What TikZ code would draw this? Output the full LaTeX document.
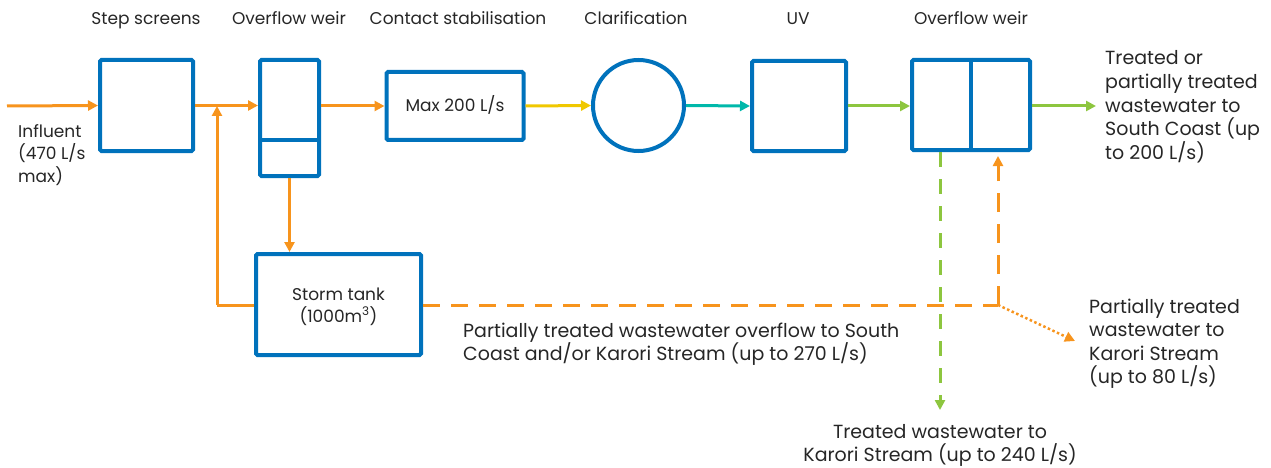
\documentclass[tikz,border=0pt]{standalone}
\usepackage{fontspec}
\setmainfont{Poppins}
\usetikzlibrary{arrows.meta}
\definecolor{cblue}{RGB}{0,114,188}
\definecolor{corange}{RGB}{247,148,29}
\definecolor{cyellow}{RGB}{240,200,0}
\definecolor{cteal}{RGB}{0,184,170}
\definecolor{cgreen}{RGB}{141,198,63}
\definecolor{ctext}{RGB}{38,38,38}
\tikzset{
  unitbox/.style={draw=cblue,line width=4pt,rounded corners=1.5pt,inner sep=0pt},
  flow/.style={line width=3pt,-{Triangle[length=10pt,width=10pt]}},
  plain/.style={line width=3pt},
  lab/.style={font=\fontsize{17}{22}\selectfont,inner sep=0pt,text=ctext,anchor=base},
  mlab/.style={inner sep=0pt,text=ctext,align=left,font=\fontsize{19}{23.5}\selectfont,anchor=base west},
}
\begin{document}
\begin{tikzpicture}[x=1pt,y=-1pt]
\useasboundingbox (0,0) rectangle (1271,468);
% boxes
\node[unitbox,minimum width=93pt,minimum height=91pt] (ss) at (146.5,105.5) {};
\node[unitbox,minimum width=59pt,minimum height=116pt] (ow1) at (289.5,118) {};
\draw[cblue,line width=4pt] (ow1.west |- 0,140) coordinate (d1a) -- (ow1.east |- 0,140) coordinate (d1b);
\node[unitbox,minimum width=137pt,minimum height=68pt] (cs) at (455,106) {};
\node[lab] (cst) at (455,112) {Max 200 L/s};
\node[draw=cblue,line width=4pt,circle,minimum size=91pt,inner sep=0pt] (cl) at (638.5,105.5) {};
\node[unitbox,minimum width=94pt,minimum height=90pt] (uv) at (799,106) {};
\node[unitbox,minimum width=118pt,minimum height=90pt] (ow2) at (971,105) {};
\draw[cblue,line width=4pt] (ow2.north) -- (ow2.south);
\node[unitbox,minimum width=165pt,minimum height=101pt] (st) at (338.5,304.5) {};
\node[lab,align=center] (stt) at (338.5,322) {Storm tank\\(1000m\textsuperscript{3})};
% top labels
\node[lab] (l1) at (146,25) {Step screens};
\node[lab] (l2) at (289,25) {Overflow weir};
\node[lab] (l3) at (458,25) {Contact stabilisation};
\node[lab] (l4) at (636,25) {Clarification};
\node[lab] (l5) at (798,25) {UV};
\node[lab] (l6) at (971,25) {Overflow weir};
% side texts
\node[lab,align=left,anchor=base west] (inf) at (18,182) {Influent\\(470 L/s\\max)};
\node[mlab] (tr1) at (1105,159) {Treated or\\partially treated\\wastewater to\\South Coast (up\\to 200 L/s)};
\node[mlab] (ov) at (463,360.5) {Partially treated wastewater overflow to South\\Coast and/or Karori Stream (up to 270 L/s)};
\node[mlab] (ks) at (1089,383.5) {Partially treated\\wastewater to\\Karori Stream\\(up to 80 L/s)};
\node[mlab,align=center,anchor=base] (tk) at (940,461.5) {Treated wastewater to\\Karori Stream (up to 240 L/s)};
% coordinates
\coordinate (instart) at (7,106);
\coordinate (jn) at (217,106);
\coordinate (jb) at (217,305);
\coordinate (dc) at (998,305);
\coordinate (gend) at (940,410);
\coordinate (dend) at (1075,341);
\coordinate (trend) at (1096,106);
% main flow
\draw[flow,corange] (instart) -- (ss.west);
\draw[flow,corange] (ss.east) -- (ow1.west |- ss.east);
\draw[flow,corange] (ow1.east |- cs.west) -- (cs.west);
\draw[flow,cyellow] (cs.east) -- (cl.west);
\draw[flow,cteal] (cl.east) -- (uv.west);
\draw[flow,cgreen] (uv.east) -- (ow2.west |- uv.east);
\draw[flow,cgreen] (ow2.east |- uv.east) -- (trend);
% storm
\draw[flow,corange] (ow1.south) -- (st.north -| ow1.south);
\draw[plain,corange] (st.west |- jb) -- (jb);
\draw[flow,corange] (jb) -- (jn);
% overflow dashed
\draw[corange,line width=3pt,dash pattern=on 17pt off 11pt] (st.east |- dc) -- (dc);
\draw[corange,line width=3pt,dash pattern=on 19pt off 12pt,-{Triangle[length=10pt,width=10pt]}] (dc) -- (998,156);
\draw[cgreen,line width=3pt,dash pattern=on 15pt off 12pt,-{Triangle[length=10pt,width=10pt]}] (940,152) -- (gend);
\draw[corange,line width=2.5pt,dash pattern=on 2.5pt off 2.5pt,-{Triangle[length=10pt,width=10pt]}] (dc) -- (dend);
\end{tikzpicture}
\end{document}
